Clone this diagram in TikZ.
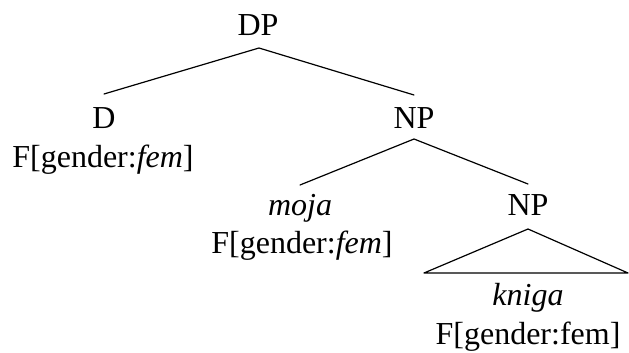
\documentclass[tikz,border=0pt]{standalone}
\usepackage{fontspec}
\setmainfont{Liberation Serif}
\usetikzlibrary{calc}
\tikzset{
  lbl/.style={anchor=base, inner sep=0pt, font=\fontsize{32}{38}\selectfont},
  edge/.style={line width=1.2pt, line cap=round, line join=round}
}
\begin{document}
\begin{tikzpicture}[x=1pt,y=-1pt]
\useasboundingbox (0,0) rectangle (629,353);
% labels
\node[lbl] (dp) at (258,36) {DP};
\node[lbl] (d) at (104,128) {D};
\node[lbl] (dF) at (103,167) {F[gender:\textit{fem}]};
\node[lbl] (np1) at (414,128) {NP};
\node[lbl] (moja) at (300,215) {\textit{moja}};
\node[lbl] (mojaF) at (302,253) {F[gender:\textit{fem}]};
\node[lbl] (np2) at (528,215) {NP};
\node[lbl] (kniga) at (528,305) {\textit{kniga}};
\node[lbl] (knigaF) at (528,344) {F[gender:fem]};
% anchor points of the branches
\coordinate (dpB) at ($(dp.base)+(1,12)$);
\coordinate (dT) at ($(d.base)+(0,-34)$);
\coordinate (np1T) at ($(np1.base)+(0,-33)$);
\coordinate (np1B) at ($(np1.base)+(0,11)$);
\coordinate (mojaT) at ($(moja.base)+(0,-30)$);
\coordinate (np2T) at ($(np2.base)+(0,-31)$);
\coordinate (triA) at ($(np2.base)+(0,14)$);
\coordinate (triL) at ($(np2.base)+(-104,58)$);
\coordinate (triR) at ($(np2.base)+(100,58)$);
% branches
\draw[edge] (dT) -- (dpB) -- (np1T);
\draw[edge] (mojaT) -- (np1B) -- (np2T);
\draw[edge] (triA) -- (triL) -- (triR) -- cycle;
\end{tikzpicture}
\end{document}
